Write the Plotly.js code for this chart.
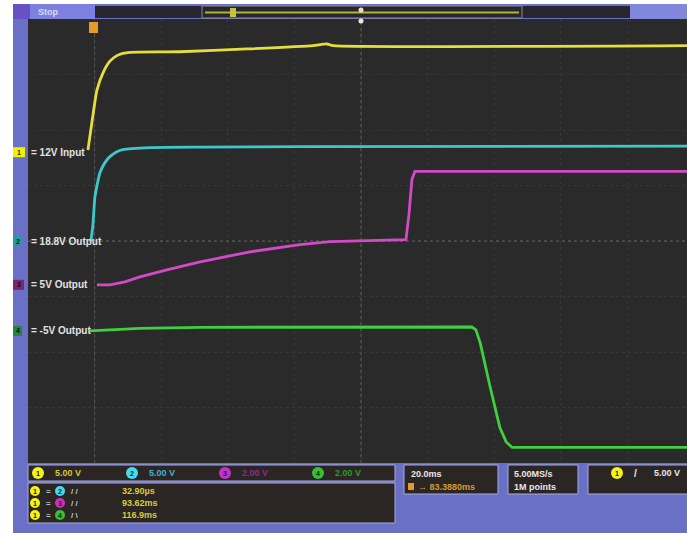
<!DOCTYPE html>
<html>
<head>
<meta charset="utf-8">
<script src="https://cdn.plot.ly/plotly-3.0.1.min.js"></script>
<style>
  html, body { margin: 0; padding: 0; background: #ffffff; }
  #scope { width: 687px; height: 533px; }
</style>
</head>
<body>
<div id="scope"></div>
<script>
// Channel traces: time in ms relative to the trigger point, amplitude in volts
const ch1Time  = [-2.0, -0.8, 0.7, 2.6, 4.6, 6.7, 8.5, 10.6, 25.6, 45.8, 65.6, 69.8, 71.6, 177.9];
const ch1Volts = [0.2, 2.7, 5.6, 7.2, 8.2, 8.7, 8.9, 9.0, 9.05, 9.3, 9.6, 9.75, 9.6, 9.6];

const ch2Time  = [-1.1, -0.5, 0.1, 1.6, 3.1, 4.6, 6.7, 8.5, 16.6, 31.7, 61.7, 177.9];
const ch2Volts = [0.0, 1.45, 3.98, 6.15, 7.06, 7.6, 8.05, 8.24, 8.42, 8.46, 8.5, 8.55];

const ch3Time  = [0.7, 4.6, 9.1, 13.6, 21.7, 31.7, 46.7, 61.7, 70.7, 79.7, 93.5, 94.4, 95.3, 96.2, 177.9];
const ch3Volts = [0.0, 0.0, 0.11, 0.29, 0.54, 0.83, 1.19, 1.45, 1.56, 1.59, 1.63, 2.53, 3.8, 4.09, 4.09];

const ch4Time  = [-1.4, 4.6, 13.6, 31.7, 61.7, 113.3, 114.5, 115.8, 118.8, 121.7, 123.6, 125.4, 177.9];
const ch4Volts = [0.0, 0.04, 0.09, 0.13, 0.14, 0.14, 0.04, -0.43, -2.03, -3.48, -4.0, -4.2, -4.2];

// Channel labels and vertical settings
const channelNames  = ['12V Input', '18.8V Output', '5V Output', '-5V Output'];
const channelScales = ['5.00 V', '5.00 V', '2.00 V', '2.00 V'];

// Delay measurements (ch1 -> ch2, ch3, ch4)
const measureValues = ['32.90\u00b5s', '93.62ms', '116.9ms'];

// Acquisition settings
const timebase     = '20.0ms';
const hDelay       = '83.3880ms';
const sampleRate   = '5.00MS/s';
const recordLength = '1M points';
const trigLevel    = '5.00 V';

// ---- drawing ----
const W = 687, H = 533;
const PL = 28, PR = 687, PT = 19, PB = 463;
const fx = px => (px - PL) / (PR - PL);
const fy = py => (PB - py) / (PB - PT);

const colors   = ['#e4de3e', '#3ec8cc', '#d24ac8', '#3ed03e'];
const marks    = ['#f2f000', '#1f9ea4', '#7e2470', '#20883c'];
const readText = ['#d2ca3a', '#3cb4d4', '#8c2c92', '#2c9c2c'];
const chipFill = ['#f4f21a', '#44dcf2', '#c432c8', '#32c232'];
const groundDiv = [5.60, 4.0, 3.21, 2.38];   // trace ground positions in divisions
const FONT = 'Liberation Sans, Arial, sans-serif';

const series = [[ch1Time, ch1Volts], [ch2Time, ch2Volts], [ch3Time, ch3Volts], [ch4Time, ch4Volts]];
const traces = series.map((s, i) => {
  const vdiv = parseFloat(channelScales[i]);
  return {
    x: s[0],
    y: s[1].map(v => groundDiv[i] + v / vdiv),
    type: 'scatter', mode: 'lines',
    line: { color: colors[i], width: 2.8, shape: i < 2 ? 'spline' : 'linear', smoothing: 0.5 },
    hoverinfo: 'skip'
  };
});

const shapes = [];
const ann = [];
function rect(x0, y0, x1, y1, fill, line, layer) {
  shapes.push({ type: 'rect', xref: 'paper', yref: 'paper', x0: fx(x0), x1: fx(x1), y0: fy(y1), y1: fy(y0),
    fillcolor: fill, line: line || { width: 0 }, layer: layer || 'above' });
}
function circ(cx, cy, r, fill) {
  shapes.push({ type: 'circle', xref: 'paper', yref: 'paper', x0: fx(cx - r), x1: fx(cx + r), y0: fy(cy + r), y1: fy(cy - r),
    fillcolor: fill, line: { width: 0 }, layer: 'above' });
}
function txt(x, y, s, color, size, anchor) {
  ann.push({ xref: 'paper', yref: 'paper', x: fx(x), y: fy(y), xanchor: anchor || 'left', yanchor: 'middle',
    text: s, showarrow: false, font: { family: FONT, size: size || 9, color: color } });
}

// white page margins
rect(0, 0, 13, H, '#ffffff');
rect(0, 0, W, 4, '#ffffff');

// top status bar
rect(13, 4, 95, 19, '#7d80de');
rect(13, 4, 30, 19, '#6652c4');
txt(36, 11.5, '<b>Stop</b>', '#d8dcff', 9);
rect(95, 6, 630, 18, '#27272d');
rect(630, 4, 687, 19, '#8188dc');
rect(202, 6, 522, 18, 'rgba(0,0,0,0)', { color: '#8a8a94', width: 1 });
shapes.push({ type: 'line', xref: 'paper', yref: 'paper', x0: fx(205), x1: fx(519), y0: fy(12.5), y1: fy(12.5),
  line: { color: '#b4b43a', width: 2 }, layer: 'above' });
rect(230, 8, 236, 17, '#c8c040');
circ(361, 10, 2.5, '#e8e0c0');

// trigger position marker and center marker on the graticule
rect(89, 22, 98, 33, '#e49a2c');
circ(361, 21, 2.5, '#f0e8d0');

// brighter graticule references (trigger point, center cross)
shapes.push({ type: 'line', xref: 'x', yref: 'paper', x0: 0, x1: 0, y0: 0, y1: 1,
  line: { color: 'rgba(170,170,170,0.35)', width: 1, dash: 'dot' }, layer: 'below' });
shapes.push({ type: 'line', xref: 'x', yref: 'paper', x0: 80, x1: 80, y0: 0, y1: 1,
  line: { color: 'rgba(180,180,180,0.4)', width: 1, dash: 'dot' }, layer: 'below' });
shapes.push({ type: 'line', xref: 'paper', yref: 'y', x0: 0, x1: 1, y0: 4, y1: 4,
  line: { color: 'rgba(180,180,180,0.4)', width: 1, dash: 'dot' }, layer: 'below' });

// channel ground markers and labels
const markW = [12, 9, 11, 9];
groundDiv.forEach((g, i) => {
  const py = PB - g * (PB - PT) / 8;
  rect(13, py - 5, 13 + markW[i], py + 5, marks[i]);
  txt(13 + markW[i] / 2, py, '<b>' + (i + 1) + '</b>', i === 0 ? '#303000' : '#101010', 7, 'center');
  ann.push({ xref: 'paper', yref: 'y', x: fx(29), y: g, xanchor: 'left', yanchor: 'middle', showarrow: false,
    text: '<b>= ' + channelNames[i] + '</b>', font: { family: FONT, size: 10, color: '#e2e2e2' } });
});

// vertical readouts row
const boxLine = { color: '#a8acdc', width: 1 };
rect(28, 465, 395, 481, '#2b2523', boxLine);
const chipX = [38, 132, 225, 318];
chipX.forEach((cx, i) => {
  circ(cx, 473, 6, chipFill[i]);
  txt(cx, 473, '<b>' + (i + 1) + '</b>', '#202020', 7, 'center');
  txt(cx + 15, 473, '<b>' + channelScales[i] + '</b>', readText[i], 9);
});

// measurement box
rect(28, 483, 395, 523, '#2b2523', boxLine);
measureValues.forEach((m, k) => {
  const y = 491 + k * 12;
  circ(35, y, 5, '#f4f21a');
  txt(35, y, '<b>1</b>', '#202020', 7, 'center');
  txt(44, y, '<b>=</b>', '#bbbbbb', 8);
  circ(60, y, 5, chipFill[k + 1]);
  txt(60, y, '<b>' + (k + 2) + '</b>', '#202020', 7, 'center');
  txt(69, y, '<b>' + (k === 2 ? '/ \\' : '/ /') + '</b>', '#c8c8c8', 8);
  txt(120, y, '<b>' + m + '</b>', '#d6cc3a', 9);
});

// horizontal / acquisition / trigger boxes
rect(404, 465, 498, 494, '#2b2523', boxLine);
txt(409, 474, '<b>' + timebase + '</b>', '#e8e8e8', 9);
rect(408, 483, 414, 490, '#e49a2c');
txt(416, 486.5, '<b>\u2192 ' + hDelay + '</b>', '#d89a2a', 9);
rect(508, 465, 578, 494, '#2b2523', boxLine);
txt(512, 474, '<b>' + sampleRate + '</b>', '#e8e8e8', 9);
txt(512, 486.5, '<b>' + recordLength + '</b>', '#e8e8e8', 9);
rect(588, 465, 690, 494, '#2b2523', boxLine);
circ(617, 473, 6, '#f4f21a');
txt(617, 473, '<b>1</b>', '#202020', 7, 'center');
txt(632, 473, '<b>/</b>', '#e8e8e8', 10);
txt(652, 473, '<b>' + trigLevel + '</b>', '#e8e8e8', 9);

const axisCommon = {
  showgrid: true, gridcolor: 'rgba(150,150,150,0.12)', griddash: 'dot', gridwidth: 1,
  zeroline: false, showticklabels: false, ticks: '', showline: false, fixedrange: true
};

const layout = {
  width: W, height: H,
  margin: { l: PL, r: W - PR, t: PT, b: H - PB, pad: 0 },
  paper_bgcolor: '#6a70c6',
  plot_bgcolor: '#2b2a2a',
  showlegend: false,
  xaxis: Object.assign({ range: [-20, 177.9], tick0: 0, dtick: 20 }, axisCommon),
  yaxis: Object.assign({ range: [0, 8], tick0: 0, dtick: 1 }, axisCommon),
  shapes: shapes,
  annotations: ann
};

Plotly.newPlot('scope', traces, layout, { staticPlot: true, displayModeBar: false });
</script>
</body>
</html>
